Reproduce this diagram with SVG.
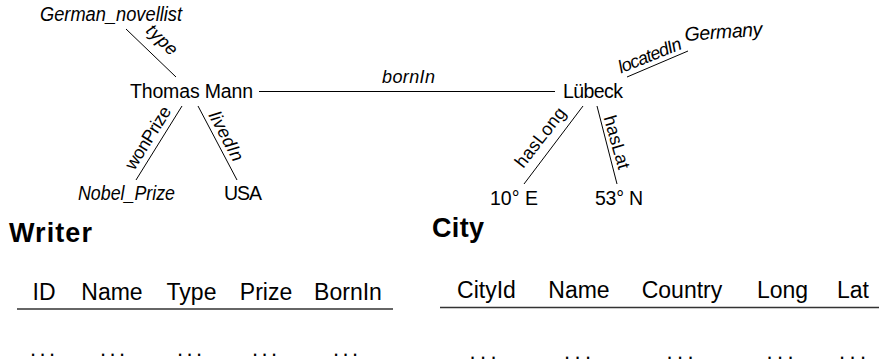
<svg xmlns="http://www.w3.org/2000/svg" width="879" height="364" viewBox="0 0 879 364">
  <style>
    text { font-family: "Liberation Sans", Arial, sans-serif; fill: #000; }
    .node { font-size: 19.5px; }
    .it { font-style: italic; }
    .lbl { font-size: 18px; text-anchor: middle; }
    .title { font-size: 27px; font-weight: bold; }
    .hdr { font-size: 23px; text-anchor: middle; }
    .dots { font-size: 22px; text-anchor: middle; }
    .edge { stroke: #000; stroke-width: 1; fill: none; }
    .rule { stroke: #333; stroke-width: 1.3; fill: none; }
  </style>

  <rect width="879" height="364" fill="#fff"/>

  <!-- knowledge graph: edges -->
  <g id="connectors">
    <line class="edge" x1="126" y1="29" x2="176" y2="77"/>
    <line class="edge" x1="182" y1="106" x2="136" y2="180"/>
    <line class="edge" x1="198" y1="106" x2="237" y2="180"/>
    <line class="edge" x1="259" y1="91.5" x2="555" y2="91.5"/>
    <line class="edge" x1="627" y1="77" x2="688" y2="51"/>
    <line class="edge" x1="583" y1="106" x2="524" y2="184"/>
    <line class="edge" x1="597" y1="106" x2="617" y2="184"/>

    <!-- edge labels -->
    <text class="lbl it" transform="translate(158,44) rotate(44)" textLength="36">type</text>
    <text class="lbl" transform="translate(153,141) rotate(-58)" textLength="71">wonPrize</text>
    <text class="lbl it" transform="translate(221,139) rotate(62)" textLength="54">livedIn</text>
    <text class="lbl it" x="408.5" y="83" textLength="53">bornIn</text>
    <text class="lbl it" transform="translate(652,61) rotate(-22)" textLength="67">locatedIn</text>
    <text class="lbl" transform="translate(545,141) rotate(-52)" textLength="71">hasLong</text>
    <text class="lbl" transform="translate(611,144) rotate(74)" textLength="55">hasLat</text>
  </g>

  <!-- knowledge graph: nodes -->
  <g id="german-novellist">
    <text class="node it" x="40" y="21" textLength="142" lengthAdjust="spacingAndGlyphs">German_novellist</text>
  </g>
  <g id="thomas-mann">
    <text class="node" x="130" y="98" textLength="123">Thomas Mann</text>
  </g>
  <g id="nobel-prize">
    <text class="node it" x="78" y="200" textLength="97" lengthAdjust="spacingAndGlyphs">Nobel_Prize</text>
  </g>
  <g id="usa">
    <text class="node" x="224" y="200" textLength="38">USA</text>
  </g>
  <g id="luebeck">
    <text class="node" x="563" y="98" textLength="60">Lübeck</text>
  </g>
  <g id="germany">
    <text class="node it" transform="translate(685,41) rotate(-4)" textLength="78">Germany</text>
  </g>
  <g id="long-10e">
    <text class="node" x="490" y="205" textLength="48">10° E</text>
  </g>
  <g id="lat-53n">
    <text class="node" x="595" y="205" textLength="48">53° N</text>
  </g>

  <!-- Writer table -->
  <g id="writer-table">
    <text class="title" x="9" y="242" textLength="83">Writer</text>
    <text class="hdr" x="44" y="300">ID</text>
    <text class="hdr" x="112" y="300">Name</text>
    <text class="hdr" x="191.5" y="300">Type</text>
    <text class="hdr" x="266" y="300">Prize</text>
    <text class="hdr" x="348" y="300">BornIn</text>
    <line class="rule" x1="17" y1="309" x2="393" y2="309"/>
    <text class="dots" x="42.5" y="356" textLength="25">. . .</text>
    <text class="dots" x="112.5" y="356" textLength="25">. . .</text>
    <text class="dots" x="189.5" y="356" textLength="25">. . .</text>
    <text class="dots" x="264.5" y="356" textLength="25">. . .</text>
    <text class="dots" x="345.5" y="356" textLength="25">. . .</text>
  </g>

  <!-- City table -->
  <g id="city-table">
    <text class="title" x="432" y="237" textLength="52">City</text>
    <text class="hdr" x="486.5" y="298">CityId</text>
    <text class="hdr" x="579" y="298">Name</text>
    <text class="hdr" x="682" y="298">Country</text>
    <text class="hdr" x="782.5" y="298">Long</text>
    <text class="hdr" x="853" y="298">Lat</text>
    <line class="rule" x1="440" y1="307.5" x2="879" y2="307.5"/>
    <text class="dots" x="483" y="359" textLength="27">. . .</text>
    <text class="dots" x="577.5" y="359" textLength="27">. . .</text>
    <text class="dots" x="680" y="359" textLength="27">. . .</text>
    <text class="dots" x="780" y="359" textLength="27">. . .</text>
    <text class="dots" x="852.5" y="359" textLength="27">. . .</text>
  </g>
</svg>
